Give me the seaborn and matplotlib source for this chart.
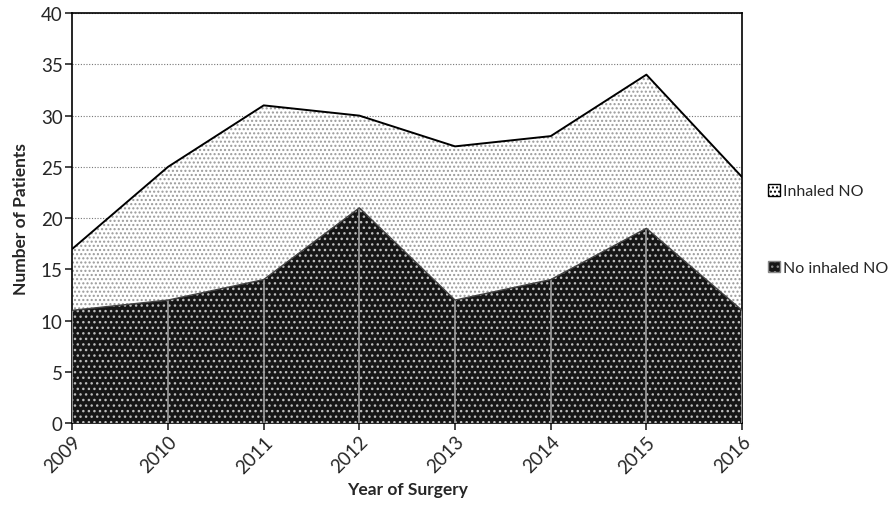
import matplotlib
matplotlib.use("Agg")
import matplotlib.pyplot as plt
import matplotlib.patches as mpatches
import seaborn as sns
import pandas as pd

years = [2009, 2010, 2011, 2012, 2013, 2014, 2015, 2016]
no_inhaled = [11, 12, 14, 21, 12, 14, 19, 11]
inhaled = [6, 13, 17, 9, 15, 14, 15, 13]
series_names = ["Inhaled NO", "No inhaled NO"]

total = [a + b for a, b in zip(no_inhaled, inhaled)]
df = pd.DataFrame({"year": years, "no": no_inhaled, "total": total})

sns.set_style("white")
plt.rcParams["font.family"] = ["Lato", "DejaVu Sans"]
plt.rcParams["hatch.linewidth"] = 1.0

fig = plt.figure(figsize=(8.93, 5.06), dpi=100)
ax = fig.add_axes([0.081, 0.162, 0.750, 0.810])

# top (inhaled) area
ax.fill_between(df["year"], df["no"], df["total"], facecolor="white",
                edgecolor="#9a9a9a", hatch="....", linewidth=0, zorder=2)
# bottom (no inhaled) area
ax.fill_between(df["year"], 0, df["no"], facecolor="#161616",
                edgecolor="#bdbdbd", hatch="...", linewidth=0, zorder=3)
ax.vlines(df["year"], 0, df["no"], color="#9e9e9e", lw=1.2, zorder=4)

sns.lineplot(data=df, x="year", y="total", color="black", lw=1.4, ax=ax, zorder=5)
sns.lineplot(data=df, x="year", y="no", color="#444444", lw=1.0, ax=ax, zorder=5)

ax.set_xlim(2009, 2016)
ax.set_ylim(0, 40)
ax.set_yticks(range(0, 41, 5))
ax.set_xticks(years)
ax.set_xticklabels([str(y) for y in years], rotation=45, ha="right",
                   rotation_mode="anchor", fontsize=13.5)
ax.tick_params(axis="y", labelsize=13.5, length=5, width=1.2, direction="out", left=True, pad=2)
ax.tick_params(axis="x", length=5, width=1.2, direction="out", bottom=True, pad=2)
ax.yaxis.grid(True, linestyle=(0, (1, 1.5)), color="#777777", lw=0.8, zorder=0)
ax.set_axisbelow(True)
for s in ax.spines.values():
    s.set_visible(True)
    s.set_color("black")
    s.set_linewidth(1.2)

ax.set_xlabel("Year of Surgery", fontsize=12.5, fontweight="bold", labelpad=4)
ax.set_ylabel("Number of Patients", fontsize=12.5, fontweight="bold", labelpad=8)

h1 = mpatches.Patch(facecolor="white", edgecolor="black", hatch="....", lw=1.0)
h2 = mpatches.Patch(facecolor="#161616", edgecolor="#888888", hatch="...", lw=1.0)
fig.legend([h1, h2], series_names, loc="upper left", bbox_to_anchor=(0.856, 0.641),
           frameon=False, fontsize=11.5, handlelength=0.75, handleheight=0.75,
           handletextpad=0.2, labelspacing=3.9, borderaxespad=0, borderpad=0.2)

fig.savefig("out.png", dpi=100)
